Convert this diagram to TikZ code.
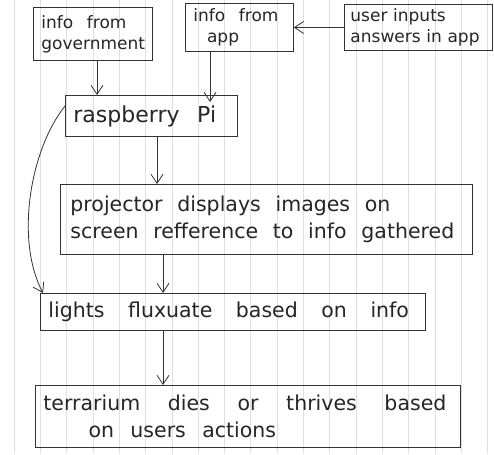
\documentclass[tikz,border=0pt]{standalone}
\usepackage{fontspec}
\setmainfont{DejaVu Sans}
\newcommand\ws[1][0.8em]{\spaceskip=#1 plus 0.1em\relax\xspaceskip=\spaceskip\ignorespaces}
\usetikzlibrary{arrows.meta}
\begin{document}
\begin{tikzpicture}[x=1pt,y=-1pt,
  box/.style={draw=black!80, line width=0.9pt, anchor=north west, inner xsep=8pt, inner ysep=3pt,
    align=left, text=black!85},
  small/.style={font=\fontsize{17}{21}\selectfont},
  big/.style={font=\fontsize{20.5}{27}\selectfont},
  arr/.style={draw=black!80, line width=0.8pt, -{Straight Barb[length=9pt,width=12pt]}},
  paper/.style={draw=black!12, line width=0.6pt}]
\useasboundingbox (0,0) rectangle (494,454);
\fill[white] (0,0) rectangle (494,454);
\foreach \i in {0,...,18} \draw[paper] (14+26.3*\i,0) -- (14+26.3*\i,454);
\node[box, small, minimum width=119pt, minimum height=53pt, text width=103pt, inner xsep=6pt] (gov) at (33,7) {\ws info from\\government};
\node[box, small, minimum width=108pt, minimum height=48pt, text width=92pt] (app) at (185,3) {\ws info from\\\hspace*{0.8em}app};
\node[box, small, minimum width=148pt, minimum height=46pt, text width=136pt, inner xsep=5pt] (user) at (344,4) {user inputs\\answers in app};
\node[box, big, minimum width=172pt, minimum height=41pt, text width=156pt] (rasp) at (65,95) {\fontsize{22}{26}\selectfont\ws raspberry Pi};
\node[box, big, minimum width=412pt, minimum height=70pt, text width=392pt, inner xsep=10pt] (proj) at (60,184) {\ws[0.72em] projector displays images on\\screen refference to info gathered};
\node[box, big, minimum width=385pt, minimum height=37pt, text width=369pt] (light) at (40,293) {\ws[1.15em] lights fluxuate based on info};
\node[box, big, minimum width=425pt, minimum height=62pt, text width=409pt] (terr) at (35,385) {\ws[1.35em] terrarium dies or thrives based\\\ws[0.8em]\hspace*{2.2em}on users actions};
\draw[arr] (user.west) -- (app.east);
\draw[arr] (gov.south -| 97,0) -- (rasp.north -| 97,0);
\draw[arr] (app.south -| 210,0) -- ([yshift=-7pt]rasp.north -| 210,0);
\draw[arr] (rasp.south -| 157,0) -- (proj.north -| 157,0);
\draw[arr] (proj.south -| 163,0) -- (light.north -| 163,0);
\draw[arr] (light.south -| 163,0) -- (terr.north -| 163,0);
\draw[arr] ([yshift=10pt]rasp.west) .. controls (30,150) and (15,240) .. ([xshift=3pt]light.north west);
\end{tikzpicture}
\end{document}
